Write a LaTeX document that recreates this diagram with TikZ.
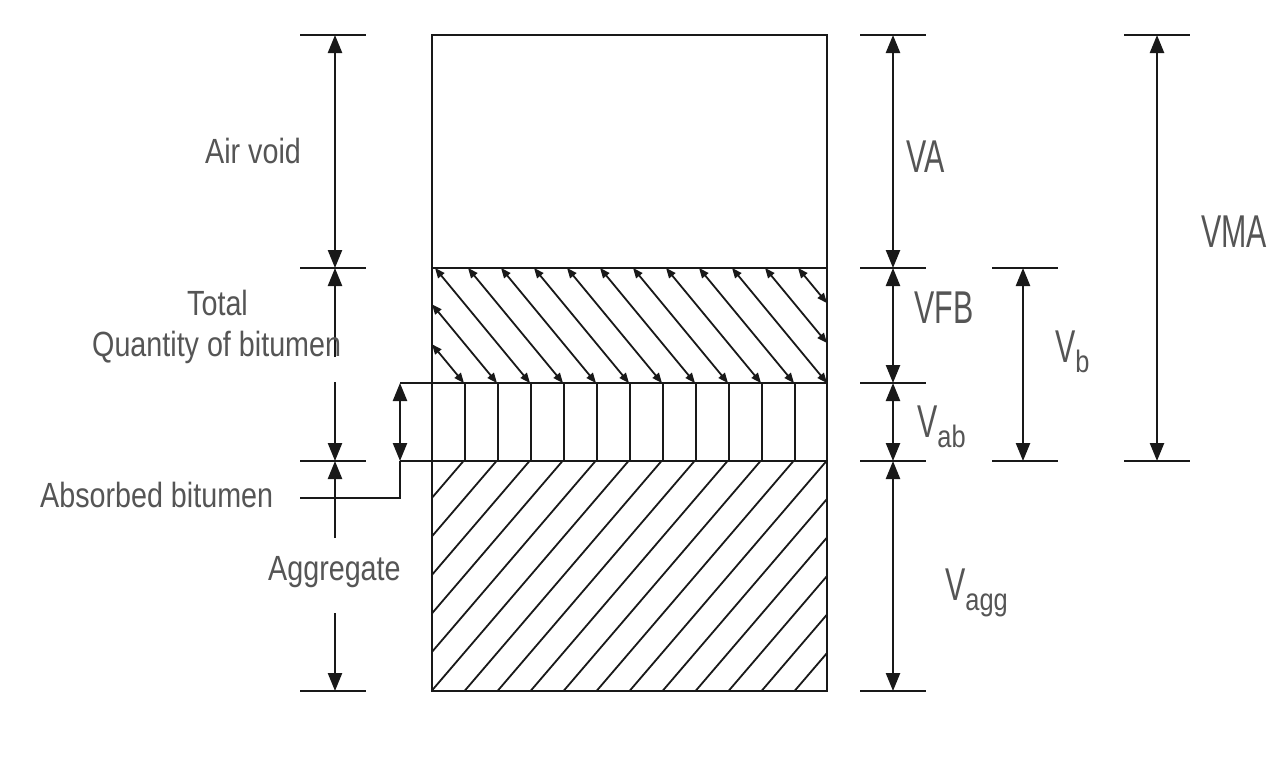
\documentclass[tikz,border=0pt]{standalone}
\usepackage{fontspec}
\setmainfont{Liberation Sans}
\newfontfamily\lfont[FakeStretch=0.82]{Liberation Sans}
\newfontfamily\rfont[FakeStretch=0.66]{Liberation Sans}
\usetikzlibrary{arrows.meta}
\definecolor{txt}{RGB}{85,85,85}
\definecolor{ln}{RGB}{25,25,25}
\newcommand\subtxt[1]{\raisebox{-10pt}{\lfont\fontsize{31}{33}\selectfont #1}}
\begin{document}
\begin{tikzpicture}[x=1pt,y=-1pt,
  dimboth/.style={line width=2.4pt, draw=ln, {Triangle[length=18pt,width=14pt]}-{Triangle[length=18pt,width=14pt]}},
  dimend/.style={line width=2.4pt, draw=ln, -{Triangle[length=18pt,width=14pt]}},
  dimline/.style={line width=2.4pt, draw=ln},
  tick/.style={line width=2.4pt, draw=ln},
  box/.style={line width=2.2pt, draw=ln},
  hatch/.style={line width=1.8pt, draw=ln},
  hatcharrow/.style={line width=1.8pt, draw=ln, {Triangle[length=10pt,width=8pt]}-{Triangle[length=10pt,width=8pt]}},
  lbl/.style={inner sep=0pt, text=txt, font=\lfont\fontsize{35}{40}\selectfont, anchor=base west},
  rlbl/.style={inner sep=0pt, text=txt, font=\rfont\fontsize{46}{50}\selectfont, anchor=base west}
]
\useasboundingbox[fill=white] (0,0) rectangle (1283,758);

% ---------- aggregate hatching ----------
\begin{scope}
  \clip (432,461) rectangle (827,691);
  \foreach \k in {0,...,16} {
    \draw[hatch] ({463.5+33*\k},461) -- ({266.5+33*\k},691);
  }
\end{scope}

% ---------- absorbed bitumen verticals ----------
\foreach \k in {0,...,10} {
  \draw[hatch] ({465+33*\k},383) -- ({465+33*\k},461);
}

% ---------- bitumen hatching with arrows ----------
\foreach \k in {-2,...,11} {
  \pgfmathsetmacro\c{435+33*\k}
  \pgfmathsetmacro\xa{max(\c,432)}
  \pgfmathsetmacro\ya{268+(\xa-\c)/0.826}
  \pgfmathsetmacro\xb{min(\c+95,827)}
  \pgfmathsetmacro\yb{268+(\xb-\c)/0.826}
  \draw[hatcharrow] (\xa,\ya) -- (\xb,\yb);
}

% ---------- main column ----------
\coordinate (tl) at (432,35);
\coordinate (br) at (827,691);
\draw[box] (tl) rectangle (br);
\coordinate (b1l) at (432,268); \coordinate (b1r) at (827,268);
\coordinate (b2l) at (400,383); \coordinate (b2r) at (827,383);
\coordinate (b3l) at (400,461); \coordinate (b3r) at (827,461);
\draw[box] (b1l) -- (b1r);
\draw[box] (b2l) -- (b2r);
\draw[box] (b3l) -- (b3r);

% ---------- left dimension column ----------
\foreach \y in {35,268,461,691} { \draw[tick] (300,\y) -- (366,\y); }
\coordinate (l35) at (335,35);   \coordinate (l268) at (335,268);
\coordinate (l357) at (335,357); \coordinate (l382) at (335,382);
\coordinate (l461) at (335,461); \coordinate (l538) at (335,538);
\coordinate (l613) at (335,613); \coordinate (l691) at (335,691);
\draw[dimboth] (l35) -- (l268);
\draw[dimend] (l357) -- (l268);
\draw[dimend] (l382) -- (l461);
\draw[dimend] (l538) -- (l461);
\draw[dimend] (l613) -- (l691);

% absorbed bitumen pointer
\coordinate (a383) at (400,383); \coordinate (a461) at (400,461);
\coordinate (a498) at (400,498); \coordinate (aend) at (300,498);
\draw[dimboth] (a383) -- (a461);
\draw[dimline] (a461) -- (a498) -- (aend);

% ---------- right dimension column 1 ----------
\foreach \y in {35,268,383,461,691} { \draw[tick] (860,\y) -- (926,\y); }
\coordinate (r35) at (893,35);   \coordinate (r268) at (893,268);
\coordinate (r383) at (893,383); \coordinate (r461) at (893,461);
\coordinate (r691) at (893,691);
\draw[dimboth] (r35) -- (r268);
\draw[dimboth] (r268) -- (r383);
\draw[dimboth] (r383) -- (r461);
\draw[dimboth] (r461) -- (r691);

% ---------- right dimension column 2 (Vb) ----------
\foreach \y in {268,461} { \draw[tick] (992,\y) -- (1058,\y); }
\coordinate (vb1) at (1023,268); \coordinate (vb2) at (1023,461);
\draw[dimboth] (vb1) -- (vb2);

% ---------- right dimension column 3 (VMA) ----------
\foreach \y in {35,461} { \draw[tick] (1124,\y) -- (1190,\y); }
\coordinate (vma1) at (1157,35); \coordinate (vma2) at (1157,461);
\draw[dimboth] (vma1) -- (vma2);

% ---------- labels ----------
\node[lbl] (airvoid) at (205,163) {Air void};
\node[lbl] (total) at (187,315) {Total};
\node[lbl] (quant) at (92,356) {Quantity of bitumen};
\node[lbl] (absorbed) at (40,507) {Absorbed bitumen};
\node[lbl] (aggregate) at (268,580) {Aggregate};

\node[rlbl] (va) at (906,172) {VA};
\node[rlbl] (vfb) at (914,323) {VFB};
\node[rlbl] (vab) at (917,437) {V\subtxt{ab}};
\node[rlbl] (vbl) at (1055,362) {V\subtxt{b}};
\node[rlbl] (vma) at (1201,247) {VMA};
\node[rlbl] (vagg) at (945,600) {V\subtxt{agg}};
\end{tikzpicture}
\end{document}
